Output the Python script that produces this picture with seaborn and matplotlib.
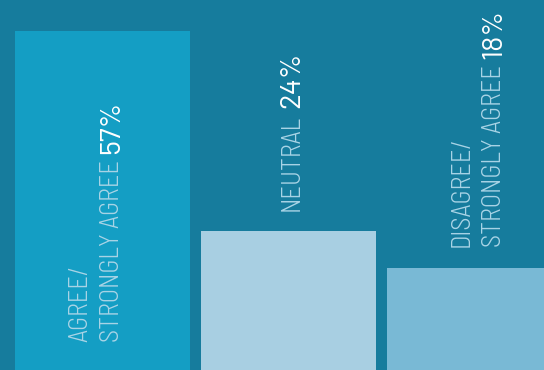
import numpy as np
import pandas as pd
import seaborn as sns
import matplotlib.pyplot as plt
from matplotlib.transforms import offset_copy

# Survey response shares
categories = ["Agree/Strongly agree", "Neutral", "Disagree/Strongly agree"]
values = [57, 24, 18]
label_lines = [["AGREE/", "STRONGLY AGREE"], ["NEUTRAL"], ["DISAGREE/", "STRONGLY AGREE"]]
value_labels = [f"{v}%" for v in values]

BG = "#167c9d"
bar_colors = ["#149ec4", "#a8cfe2", "#79b9d5"]
LABEL_COLOR = "#a9d4e6"
LABEL_SIZE = 19
VALUE_SIZE = 21

sns.set_theme(style="white")
plt.rcParams["font.family"] = ["Barlow Semi Condensed", "DejaVu Sans"]

fig = plt.figure(figsize=(5.44, 3.70), dpi=100, facecolor=BG)
ax = fig.add_axes([0, 0, 1, 1])
ax.set_facecolor(BG)

df = pd.DataFrame({"category": categories, "value": values})
sns.barplot(data=df, x="category", y="value", hue="category",
            order=categories, hue_order=categories, palette=bar_colors,
            width=0.94, saturation=1, linewidth=0, legend=False, ax=ax)

ax.set_xlim(-0.551, 2.374)
ax.set_ylim(1.18, 62.06)
ax.set_axis_off()

pitch = 32  # pixels between stacked rotated lines
top_idx = int(np.argmax(values))
for i, (lines, v, vl) in enumerate(zip(label_lines, values, value_labels)):
    if i == top_idx:
        y0, shift = 5.8, -6.5    # label sits inside the tallest bar
    else:
        y0, shift = v + 3.4, 3.5  # label sits above the bar
    n = len(lines)
    for k, line in enumerate(lines):
        dx = shift + (k - (n - 1) / 2) * pitch
        tr = offset_copy(ax.transData, fig=fig, x=dx, y=0, units="dots")
        t = ax.text(i, y0, line, transform=tr, rotation=90,
                    ha="center", va="bottom", color=LABEL_COLOR,
                    fontsize=LABEL_SIZE, fontweight=300)
        if k == n - 1:
            ax.annotate(vl, xy=(0.5, 1), xycoords=t, xytext=(0, 6),
                        textcoords="offset pixels", rotation=90,
                        ha="center", va="bottom", color="white",
                        fontsize=VALUE_SIZE, fontweight=400,
                        family=["Barlow", "DejaVu Sans"])

fig.savefig("out.png", dpi=100, facecolor=BG)
